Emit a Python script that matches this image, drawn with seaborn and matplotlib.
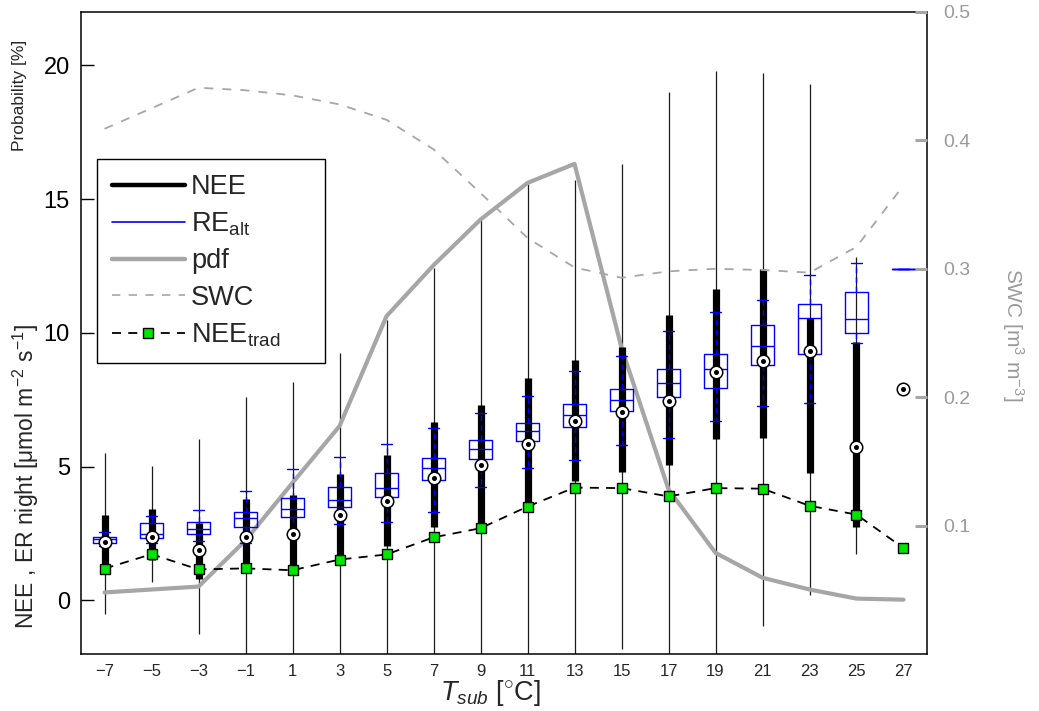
import numpy as np
import matplotlib
matplotlib.use("Agg")
import matplotlib.pyplot as plt
from matplotlib.lines import Line2D
import seaborn as sns

# Soil temperature classes (bin centres, degC)
temps = [-7, -5, -3, -1, 1, 3, 5, 7, 9, 11, 13, 15, 17, 19, 21, 23, 25, 27]

# NEE night-time distribution per class (compact boxplot)
nee_lo = [-0.49, 0.68, -1.27, -2.6, -2.6, -2.6, -2.6, -2.6, -2.6, -2.6, -2.6, -1.80, -2.6, -2.6, -0.97, 0.22, 1.72, 7.91]
nee_q1 = [1.05, 1.53, 0.79, 1.05, 0.97, 1.45, 2.03, 2.75, 2.75, 3.50, 4.45, 4.80, 5.08, 6.04, 6.08, 4.77, 2.75, 7.91]
nee_med = [2.18, 2.38, 1.88, 2.37, 2.47, 3.19, 3.70, 4.57, 5.05, 5.86, 6.72, 7.05, 7.44, 8.54, 8.97, 9.31, 5.73, 7.91]
nee_q3 = [3.21, 3.43, 2.90, 3.80, 3.96, 4.74, 5.43, 6.68, 7.31, 8.32, 9.00, 9.48, 10.69, 11.63, 12.39, 10.57, 9.67, 7.91]
nee_hi = [5.50, 5.02, 6.02, 7.60, 8.15, 9.26, 10.48, 12.41, 14.24, 15.55, 15.70, 16.30, 19.00, 19.81, 19.72, 19.29, 12.85, 7.91]

# Alternative ecosystem respiration per class (standard boxplot)
re_lo = [2.03, 2.16, 2.22, 2.16, 2.45, 2.87, 2.94, 3.29, 4.26, 4.96, 5.26, 5.82, 6.09, 6.70, 7.28, 7.38, 9.63, 12.39]
re_q1 = [2.16, 2.32, 2.49, 2.76, 3.11, 3.49, 3.85, 4.52, 5.30, 5.96, 6.50, 7.07, 7.59, 7.96, 8.79, 9.22, 9.98, 12.39]
re_med = [2.28, 2.48, 2.68, 3.07, 3.43, 3.77, 4.22, 4.96, 5.67, 6.33, 6.92, 7.50, 8.14, 8.66, 9.51, 10.57, 10.52, 12.39]
re_q3 = [2.37, 2.88, 2.94, 3.30, 3.84, 4.24, 4.77, 5.33, 5.99, 6.64, 7.35, 7.91, 8.66, 9.22, 10.28, 11.10, 11.54, 12.39]
re_hi = [2.55, 3.15, 3.40, 4.09, 4.90, 5.36, 5.84, 6.44, 7.02, 7.64, 8.57, 9.15, 10.06, 10.77, 11.25, 12.18, 12.60, 12.39]

# Traditional NEE estimate per class
nee_trad = [1.19, 1.73, 1.16, 1.20, 1.13, 1.53, 1.72, 2.36, 2.70, 3.51, 4.22, 4.20, 3.89, 4.20, 4.18, 3.54, 3.21, 1.96]

# Probability of each temperature class [%]
pdf = [0.30, 0.41, 0.52, 2.25, 4.40, 6.52, 10.63, 12.53, 14.24, 15.61, 16.32, 9.45, 4.15, 1.78, 0.85, 0.41, 0.07, 0.03]

# Mean soil water content per class [m3 m-3]
swc = [0.409, 0.425, 0.441, 0.439, 0.435, 0.428, 0.416, 0.393, 0.359, 0.324, 0.301, 0.293, 0.298, 0.300, 0.299, 0.297, 0.317, 0.365]

sns.set_style("white")
plt.rcParams["font.family"] = ["Liberation Sans", "DejaVu Sans"]
plt.rcParams["mathtext.fontset"] = "custom"
plt.rcParams["mathtext.rm"] = "Liberation Sans"
plt.rcParams["mathtext.it"] = "Liberation Sans:italic"
plt.rcParams["mathtext.bf"] = "Liberation Sans:bold"

GRAY = "#a6a6a6"
LABEL_GRAY = "#9a9a9a"
GREEN = "#00e600"
BLUE = "#0000ff"

W, H = 1039, 711
fig = plt.figure(figsize=(W / 100, H / 100), dpi=100)
ax = fig.add_axes([0.078, 0.0802, 0.8142, 0.903])
pos = np.array(temps, dtype=float)

# NEE whiskers (thin) and interquartile bars (thick)
ax.vlines(pos, nee_lo, nee_hi, color="#1a1a1a", lw=0.9, zorder=2)
sns.lineplot(x=temps, y=pdf, ax=ax, color=GRAY, lw=3.0, zorder=3, legend=False)
ax.vlines(pos, nee_q1, nee_q3, color="k", lw=5.2, capstyle="butt", zorder=4)

# RE_alt boxes
stats = [dict(med=m, q1=a, q3=b, whislo=l, whishi=h, fliers=[])
         for l, a, m, b, h in zip(re_lo, re_q1, re_med, re_q3, re_hi)]
ax.bxp(stats, positions=pos, widths=0.98, capwidths=0.47, showfliers=False,
       manage_ticks=False, zorder=5,
       boxprops=dict(color=BLUE, lw=1.0),
       whiskerprops=dict(color=BLUE, lw=1.0, ls=(0, (4, 3))),
       capprops=dict(color=BLUE, lw=1.0),
       medianprops=dict(color=BLUE, lw=1.0))

# NEE medians: circled dot
ax.plot(pos, nee_med, ls="none", marker="o", ms=9, mfc="white", mec="k", mew=1.1, zorder=6)
ax.plot(pos, nee_med, ls="none", marker="o", ms=2.6, color="k", zorder=7)

# Traditional NEE
sns.lineplot(x=temps, y=nee_trad, ax=ax, color="k", lw=1.3, ls=(0, (5, 4)),
             marker="s", ms=7.5, mfc=GREEN, mec="k", mew=1.0, zorder=8, legend=False)

ax.set_xlim(-8, 28)
ax.set_ylim(-2, 22)
ax.set_xticks(temps)
ax.set_xticklabels([("\u2212%d" % -t) if t < 0 else str(t) for t in temps])
ax.set_yticks([0, 5, 10, 15, 20])
ax.tick_params(axis="x", length=0, labelsize=12, pad=7)
ax.tick_params(axis="y", direction="in", length=9, width=1, left=True, right=True,
               labelsize=17, pad=8, colors="k")
ax.set_xlabel("")
ax.set_ylabel("")
for sp in ax.spines.values():
    sp.set_visible(True)
    sp.set_color("k")
    sp.set_linewidth(1.1)

# Soil water content on the right axis
ax2 = ax.twinx()
sns.lineplot(x=temps, y=swc, ax=ax2, color=GRAY, lw=1.3, ls=(0, (5, 5)), legend=False)
ax2.set_ylim(0, 0.5)
ax2.set_yticks([0.1, 0.2, 0.3, 0.4, 0.5])
ax2.set_yticklabels(["0.1", "0.2", "0.3", "0.4", "0.5"])
ax2.tick_params(axis="y", direction="in", length=9, width=2.2, color=GRAY,
                labelcolor=LABEL_GRAY, labelsize=14, pad=12)
ax2.set_ylabel("")
for sp in ax2.spines.values():
    sp.set_visible(False)

# Axis titles
fig.text(20 / W, 1 - 95 / H, "Probability [%]", rotation=90,
         ha="center", va="center", fontsize=12.5)
fig.text(26 / W, 1 - 477 / H, "NEE , ER night [\u03bcmol m$^{-2}$ s$^{-1}$]",
         rotation=90, ha="center", va="center", fontsize=16.5)
fig.text(490 / W, 3 / H, r"$T_{sub}$ [$^{\circ}$C]",
         ha="center", va="bottom", fontsize=19.5)
fig.text(1013 / W, 1 - 335 / H, "SWC [m$^{3}$ m$^{-3}$]", rotation=-90,
         ha="center", va="center", fontsize=15, color=LABEL_GRAY)

# Legend
handles = [
    Line2D([], [], color="k", lw=3.2),
    Line2D([], [], color=BLUE, lw=1.2),
    Line2D([], [], color=GRAY, lw=3.2),
    Line2D([], [], color=GRAY, lw=1.2, ls=(0, (5, 5))),
    Line2D([], [], color="k", lw=1.3, ls=(0, (5, 4)), marker="s", ms=7.5,
           mfc=GREEN, mec="k", mew=1.0),
]
labels = ["NEE", "RE$_{\\mathrm{alt}}$", "pdf", "SWC", "NEE$_{\\mathrm{trad}}$"]
leg = ax.legend(handles, labels, loc="upper left",
                bbox_to_anchor=((97 - 81) / 846, 0.0, 228 / 846, (654 - 158) / 644),
                mode="expand", fontsize=19.5, handlelength=2.7, handletextpad=0.22,
                labelspacing=0.38, borderpad=0.55, borderaxespad=0, frameon=True,
                fancybox=False, framealpha=1, edgecolor="k")
leg.get_frame().set_linewidth(1.0)
leg.set_zorder(20)

fig.savefig("out.png", dpi=100)
